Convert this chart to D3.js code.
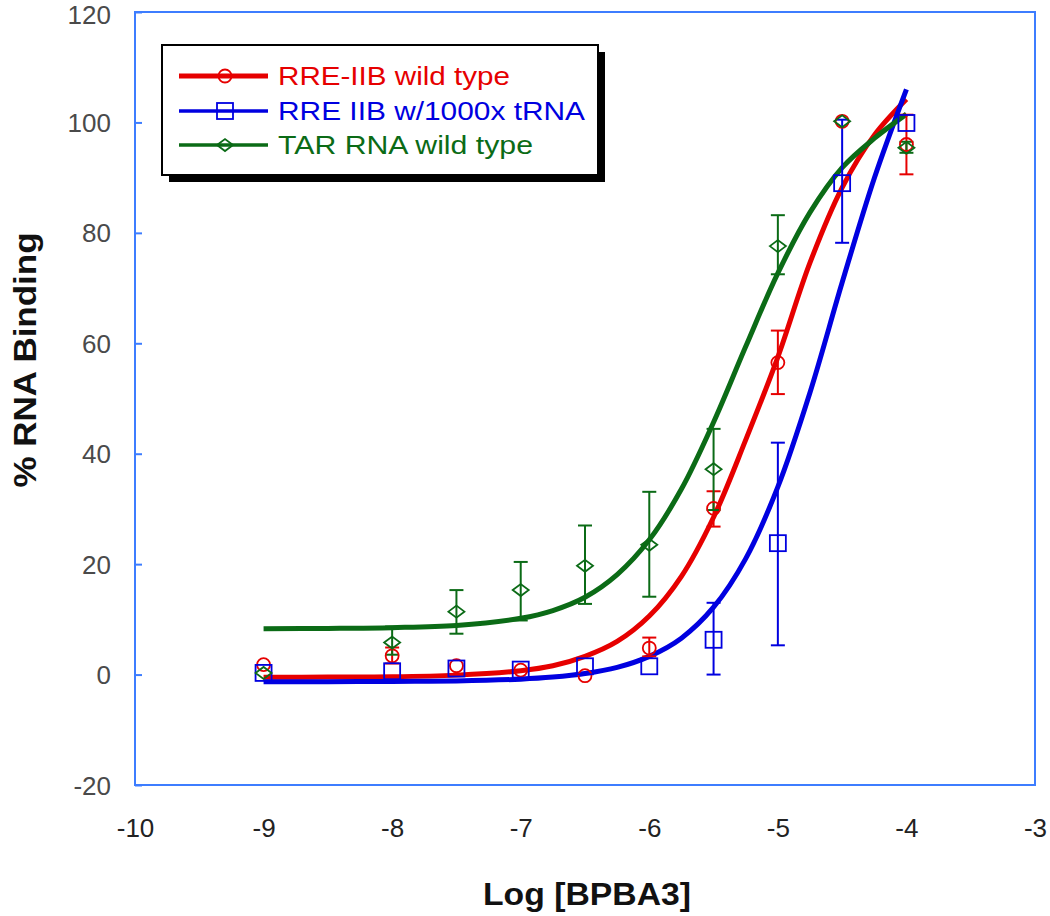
<!DOCTYPE html>
<html><head><meta charset="utf-8">
<script src="https://cdn.jsdelivr.net/npm/d3@7"></script>
<style>body{margin:0;background:#fff}</style></head>
<body>
<svg id="c" width="1050" height="916"></svg>
<script>
// ---- data ----
const xTicks = [-10,-9,-8,-7,-6,-5,-4,-3];
const yTicks = [-20,0,20,40,60,80,100,120];
const seriesNames = ["RRE-IIB wild type","RRE IIB w/1000x tRNA","TAR RNA wild type"];

const ptX = [-9,-8,-7.5,-7,-6.5,-6,-5.5,-5,-4.5,-4];
const redY   = [1.8,3.4,1.6,0.8,-0.2,4.8,30.1,56.5,100.2,96];
const redHi  = [null,4.9,null,null,null,6.7,33.2,62.3,null,101.4];
const redLo  = [null,2.0,null,null,null,3.3,26.8,50.8,null,90.6];
const blueY  = [0.3,0.6,1.1,0.9,1.5,1.5,6.3,23.8,89,99.9];
const blueHi = [null,null,null,null,null,null,13,42,100.5,null];
const blueLo = [null,null,null,null,null,null,0,5.3,78.2,null];
const greenY  = [0.3,5.8,11.4,15.3,19.7,23.5,37.2,77.6,100.2,95.4];
const greenHi = [null,8.7,15.3,20.4,27,33.1,44.5,83.2,null,96.5];
const greenLo = [null,3.6,7.4,9.8,12.8,14.1,29.8,72.5,null,94.5];

const curveX = [-9,-8.5,-8,-7.5,-7,-6.75,-6.5,-6.25,-6,-5.75,-5.5,-5.25,-5,-4.75,-4.5,-4.25,-4];
const redCurve   = [-0.5,-0.45,-0.4,-0.1,0.7,1.6,3.3,6.0,10.6,17.8,28.5,42.5,57.5,74.6,88.2,97.7,104.2];
const blueCurve  = [-1.3,-1.28,-1.25,-1.15,-0.83,-0.46,0.18,1.3,3.3,6.6,12.2,21.0,34.0,51.1,71.0,89.9,106];
const greenCurve = [8.3,8.36,8.5,8.9,10.2,11.6,14.0,18.1,24.4,33.6,45.7,59.4,72.7,83.7,91.8,97.1,101.5];

// ---- drawing ----
const svg = d3.select("#c");
const x = d3.scaleLinear().domain([-10,-3]).range([135,1035]);
const y = d3.scaleLinear().domain([-20,120]).range([785,12]);

const RED="#e60000", BLUE="#0000e0", GREEN="#0b6b16", FRAME="#3d7dff";
const fmt = (d)=>String(d);

// y axis ticks (inward) and labels
const yAxis = d3.axisLeft(y).tickValues(yTicks).tickSize(-7).tickPadding(0).tickFormat(fmt);
const gy = svg.append("g").attr("transform","translate(135,0)").call(yAxis);
gy.select(".domain").remove();
gy.selectAll(".tick line").attr("stroke",FRAME).attr("stroke-width",2);
gy.selectAll(".tick text").attr("x",-24).attr("dy",(d)=>d===120?"0.45em":"0.35em")
  .attr("font-family","Liberation Sans, Arial, sans-serif").attr("font-size",26).attr("fill","#4a4a4a");

// x axis labels (no ticks)
const xAxis = d3.axisBottom(x).tickValues(xTicks).tickSize(0).tickPadding(0).tickFormat(fmt);
const gx = svg.append("g").attr("transform","translate(0,785)").call(xAxis);
gx.select(".domain").remove();
gx.selectAll(".tick text").attr("y",52).attr("dy",0)
  .attr("font-family","Liberation Sans, Arial, sans-serif").attr("font-size",26).attr("fill","#222");

// frame
svg.append("rect").attr("x",x(-10)).attr("y",y(120)).attr("width",x(-3)-x(-10)).attr("height",y(-20)-y(120))
  .attr("fill","none").attr("stroke",FRAME).attr("stroke-width",2);

// titles
svg.append("text").attr("x",587).attr("y",905).attr("text-anchor","middle")
  .attr("font-family","Liberation Sans, Arial, sans-serif").attr("font-weight","bold").attr("font-size",31)
  .attr("textLength",208).attr("lengthAdjust","spacingAndGlyphs").attr("fill","#111").text("Log [BPBA3]");
svg.append("text").attr("transform","translate(36,360) rotate(-90)").attr("text-anchor","middle")
  .attr("font-family","Liberation Sans, Arial, sans-serif").attr("font-weight","bold").attr("font-size",31)
  .attr("textLength",255).attr("lengthAdjust","spacingAndGlyphs").attr("fill","#111").text("% RNA Binding");

// curves
const line = d3.line().x((d)=>x(d[0])).y((d)=>y(d[1])).curve(d3.curveCatmullRom.alpha(0.5));
const curves = [[redCurve,RED],[blueCurve,BLUE],[greenCurve,GREEN]];
curves.forEach(([c,col])=>{
  svg.append("path").datum(curveX.map((v,i)=>[v,c[i]])).attr("d",line)
    .attr("fill","none").attr("stroke",col).attr("stroke-width",5).attr("stroke-linejoin","round");
});

// error bars
function errBars(hi,lo,col){
  const g = svg.append("g").attr("stroke",col).attr("stroke-width",2);
  ptX.forEach((v,i)=>{
    if(hi[i]==null) return;
    const cx=x(v);
    g.append("line").attr("x1",cx).attr("x2",cx).attr("y1",y(hi[i])).attr("y2",y(lo[i]));
    g.append("line").attr("x1",cx-7).attr("x2",cx+7).attr("y1",y(hi[i])).attr("y2",y(hi[i]));
    g.append("line").attr("x1",cx-7).attr("x2",cx+7).attr("y1",y(lo[i])).attr("y2",y(lo[i]));
  });
}
errBars(redHi,redLo,RED);
errBars(blueHi,blueLo,BLUE);
errBars(greenHi,greenLo,GREEN);

// markers
function circle(g,cx,cy,col){ g.append("circle").attr("cx",cx).attr("cy",cy).attr("r",6.5).attr("fill","none").attr("stroke",col).attr("stroke-width",1.8); }
function square(g,cx,cy,col){ g.append("rect").attr("x",cx-8).attr("y",cy-8).attr("width",16).attr("height",16).attr("fill","none").attr("stroke",col).attr("stroke-width",1.8); }
function diamond(g,cx,cy,col){ g.append("path").attr("d",`M${cx-8},${cy}L${cx},${cy-6}L${cx+8},${cy}L${cx},${cy+6}Z`).attr("fill","none").attr("stroke",col).attr("stroke-width",1.8); }
const gm = svg.append("g");
ptX.forEach((v,i)=>circle(gm,x(v),y(redY[i]),RED));
ptX.forEach((v,i)=>square(gm,x(v),y(blueY[i]),BLUE));
ptX.forEach((v,i)=>diamond(gm,x(v),y(greenY[i]),GREEN));

// legend
svg.append("rect").attr("x",169).attr("y",52).attr("width",436).attr("height",130).attr("fill","#000");
svg.append("rect").attr("x",162).attr("y",45).attr("width",436).attr("height",130).attr("fill","#fff").attr("stroke","#000").attr("stroke-width",2);
const legRows = [
  {name:seriesNames[0],col:RED,sw:5,mk:circle,len:232},
  {name:seriesNames[1],col:BLUE,sw:3.5,mk:square,len:307},
  {name:seriesNames[2],col:GREEN,sw:3.5,mk:diamond,len:255}
];
const rowY = [76,111,145];
legRows.forEach((r,i)=>{
  const ly=rowY[i];
  svg.append("line").attr("x1",179).attr("x2",268).attr("y1",ly).attr("y2",ly).attr("stroke",r.col).attr("stroke-width",r.sw);
  const g=svg.append("g"); r.mk(g,225,ly,r.col);
  svg.append("text").attr("x",278).attr("y",ly+9).attr("font-family","Liberation Sans, Arial, sans-serif")
    .attr("font-size",25).attr("textLength",r.len).attr("lengthAdjust","spacingAndGlyphs").attr("fill",r.col).text(r.name);
});
</script>
</body></html>
